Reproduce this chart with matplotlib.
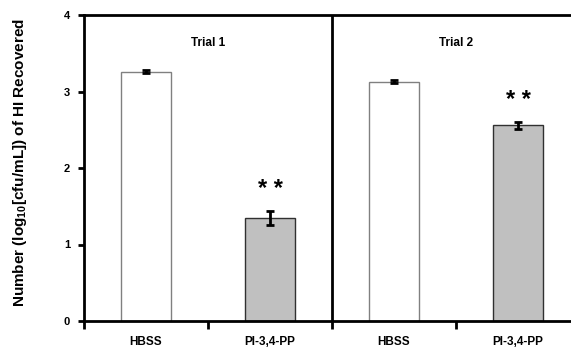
import matplotlib.pyplot as plt
from matplotlib.ticker import FixedLocator, NullFormatter, FixedFormatter

CATEGORIES = ["HBSS", "PI-3,4-PP", "HBSS", "PI-3,4-PP"]
VALUES = [3.26, 1.35, 3.13, 2.56]
ERRORS = [0.015, 0.09, 0.015, 0.045]
TRIALS = ["Trial 1", "Trial 2"]
SIGNIFICANT = [False, True, False, True]

plt.rcParams["font.family"] = ["Liberation Sans", "DejaVu Sans"]
plt.rcParams["font.weight"] = "bold"
plt.rcParams["mathtext.fontset"] = "custom"
plt.rcParams["mathtext.bf"] = "Liberation Sans:bold"
plt.rcParams["mathtext.rm"] = "Liberation Sans:bold"

fig = plt.figure(figsize=(5.71, 3.47), dpi=100)
ax = fig.add_axes([84 / 571, 26 / 347, 496 / 571, 306 / 347])

xs = [i + 0.5 for i in range(len(VALUES))]
fills = ["white", "#c0c0c0", "white", "#c0c0c0"]
edges = ["#808080", "#303030", "#808080", "#303030"]
ax.bar(xs, VALUES, width=0.4, color=fills, edgecolor=edges, linewidth=1.0, zorder=2)
ax.errorbar(xs, VALUES, yerr=ERRORS, fmt="none", ecolor="black", elinewidth=2,
            capsize=3, capthick=2, zorder=3)

# significance markers above the treated bars
for x, v, e, sig in zip(xs, VALUES, ERRORS, SIGNIFICANT):
    if sig:
        ax.text(x, v + e + 0.28, "* *", ha="center", va="center", fontsize=17,
                fontweight="bold")

for i, label in enumerate(TRIALS):
    ax.text(1 + 2 * i, 3.63, label, ha="center", va="center", fontsize=8.5,
            fontweight="bold")

ax.axvline(2, color="black", linewidth=2, zorder=4)

ax.set_xlim(0, 4)
ax.set_ylim(0, 4)
ax.set_yticks([0, 1, 2, 3, 4])
ax.tick_params(axis="y", direction="out", length=4, width=2, labelsize=8, pad=6)

ax.xaxis.set_major_locator(FixedLocator([0, 1, 2, 3]))
ax.xaxis.set_major_formatter(NullFormatter())
ax.xaxis.set_minor_locator(FixedLocator(xs))
ax.xaxis.set_minor_formatter(FixedFormatter(CATEGORIES))
ax.tick_params(axis="x", which="major", direction="out", length=6, width=2)
ax.tick_params(axis="x", which="minor", length=0, labelsize=8.5, pad=11)

for side in ["left", "bottom", "top"]:
    ax.spines[side].set_linewidth(2)
ax.spines["right"].set_visible(False)

fig.text(20 / 571, 1 - 163 / 347, r"Number (log$_{\mathrm{10}}$[cfu/mL]) of HI Recovered",
         rotation=90, ha="center", va="center", fontsize=11, fontweight="bold")

fig.savefig("out.png", dpi=100)
